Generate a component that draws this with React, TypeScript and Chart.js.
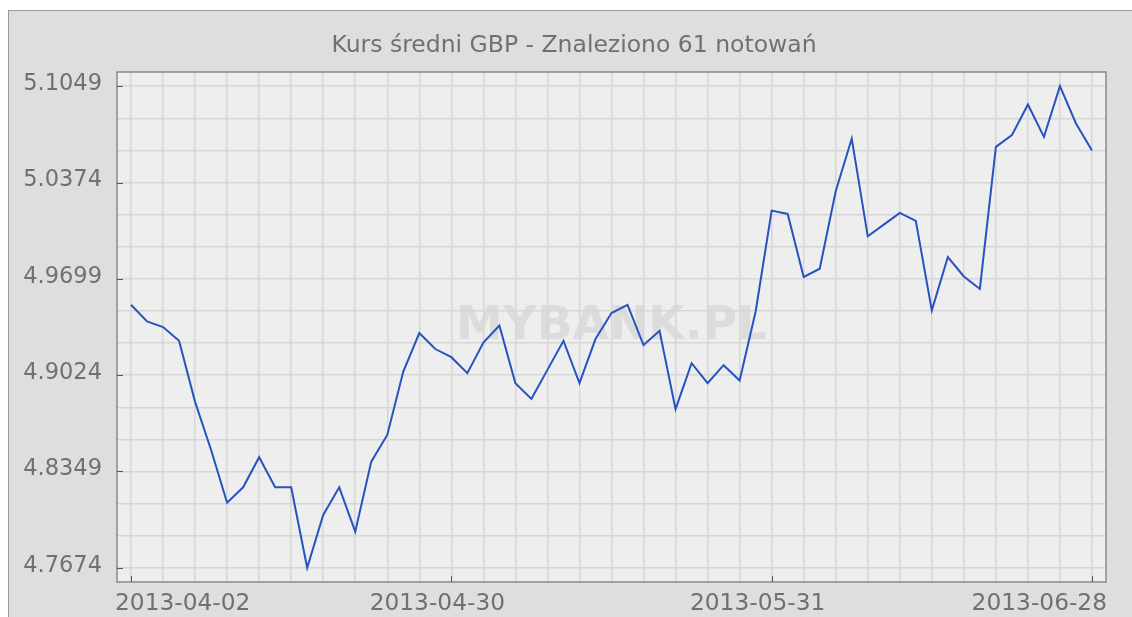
import React, { useEffect, useRef } from "react";
import { Chart, registerables } from "chart.js";

Chart.register(...registerables);

const TITLE = "Kurs średni GBP - Znaleziono 61 notowań";
const WATERMARK = "MYBANK.PL";

const dates: string[] = [
  "2013-04-02", "2013-04-03", "2013-04-04", "2013-04-05",
  "2013-04-08", "2013-04-09", "2013-04-10", "2013-04-11", "2013-04-12",
  "2013-04-15", "2013-04-16", "2013-04-17", "2013-04-18", "2013-04-19",
  "2013-04-22", "2013-04-23", "2013-04-24", "2013-04-25", "2013-04-26",
  "2013-04-29", "2013-04-30",
  "2013-05-02",
  "2013-05-06", "2013-05-07", "2013-05-08", "2013-05-09", "2013-05-10",
  "2013-05-13", "2013-05-14", "2013-05-15", "2013-05-16", "2013-05-17",
  "2013-05-20", "2013-05-21", "2013-05-22", "2013-05-23", "2013-05-24",
  "2013-05-27", "2013-05-28", "2013-05-29", "2013-05-31",
  "2013-06-03", "2013-06-04", "2013-06-05", "2013-06-06", "2013-06-07",
  "2013-06-10", "2013-06-11", "2013-06-12", "2013-06-13", "2013-06-14",
  "2013-06-17", "2013-06-18", "2013-06-19", "2013-06-20", "2013-06-21",
  "2013-06-24", "2013-06-25", "2013-06-26", "2013-06-27", "2013-06-28",
];

const rates: number[] = [
  4.9517, 4.9400, 4.9361, 4.9265, 4.8837, 4.8500, 4.8130, 4.8238, 4.8449, 4.8238,
  4.8238, 4.7674, 4.8044, 4.8238, 4.7927, 4.8418, 4.8605, 4.9049, 4.9319, 4.9207,
  4.9150, 4.9038, 4.9253, 4.9372, 4.8968, 4.8858, 4.9061, 4.9265, 4.8968, 4.9277,
  4.9459, 4.9517, 4.9235, 4.9335, 4.8786, 4.9108, 4.8968, 4.9094, 4.8986, 4.9470,
  5.0177, 5.0154, 4.9712, 4.9770, 5.0313, 5.0682, 4.9997, 5.0079, 5.0161, 5.0105,
  4.9478, 4.9852, 4.9716, 4.9628, 5.0624, 5.0706, 5.0921, 5.0694, 5.1049, 5.0788,
  5.0598,
];

const yTickLabels: string[] = ["4.7674", "4.8349", "4.9024", "4.9699", "5.0374", "5.1049"];
const yMinorPerMajor = 3;
const xLabelIndices: number[] = [0, 20, 40, 60];
const xGridEvery = 2;

const FONT = "'DejaVu Sans', sans-serif";
const TEXT_COLOR = "#707070";

export default function App() {
  const ref = useRef<HTMLCanvasElement>(null);

  useEffect(() => {
    const canvas = ref.current!;
    const yMajor = yTickLabels.map(Number);
    const yStep = (yMajor[1] - yMajor[0]) / yMinorPerMajor;
    const yGrid: number[] = [];
    for (let k = 0; k <= (yMajor.length - 1) * yMinorPerMajor; k++) {
      yGrid.push(+(yMajor[0] + k * yStep).toFixed(5));
    }
    const xGrid: number[] = [];
    for (let i = 0; i < dates.length; i += xGridEvery) xGrid.push(i);

    const yPad = (yMajor[yMajor.length - 1] - yMajor[0]) * 0.0295;
    const xPad = 0.875;

    const deco = {
      id: "deco",
      beforeDraw(chart: any) {
        const { ctx, chartArea: a, width, height } = chart;
        ctx.save();
        ctx.fillStyle = "#ffffff";
        ctx.fillRect(0, 0, width, height);
        ctx.fillStyle = "#dedede";
        ctx.fillRect(8.5, 10.5, width + 20, height + 20);
        ctx.strokeStyle = "#9a9a9a";
        ctx.lineWidth = 1;
        ctx.strokeRect(8.5, 10.5, width + 20, height + 20);
        ctx.fillStyle = "#eeeeee";
        ctx.fillRect(a.left, a.top, a.right - a.left, a.bottom - a.top);
        ctx.fillStyle = "#dcdcdc";
        ctx.font = `bold 47px ${FONT}`;
        ctx.textAlign = "center";
        ctx.textBaseline = "middle";
        ctx.fillText(WATERMARK, (a.left + a.right) / 2, (a.top + a.bottom) / 2);
        ctx.restore();
      },
      afterDraw(chart: any) {
        const { ctx, chartArea: a } = chart;
        const xs = chart.scales.x;
        const ys = chart.scales.y;
        ctx.save();
        // plot border
        ctx.strokeStyle = "#8a8a8a";
        ctx.lineWidth = 1.5;
        ctx.strokeRect(a.left, a.top, a.right - a.left, a.bottom - a.top);
        // inward tick marks
        ctx.strokeStyle = "#555555";
        ctx.lineWidth = 1;
        ctx.beginPath();
        yMajor.forEach((v) => {
          const y = Math.round(ys.getPixelForValue(v)) + 0.5;
          ctx.moveTo(a.left, y);
          ctx.lineTo(a.left + 6, y);
        });
        xLabelIndices.forEach((i) => {
          const x = Math.round(xs.getPixelForValue(i)) + 0.5;
          ctx.moveTo(x, a.bottom);
          ctx.lineTo(x, a.bottom - 6);
        });
        ctx.stroke();
        // y labels
        ctx.fillStyle = TEXT_COLOR;
        ctx.font = `22.5px ${FONT}`;
        ctx.textAlign = "right";
        ctx.textBaseline = "middle";
        yTickLabels.forEach((t, k) => {
          ctx.fillText(t, a.left - 15, ys.getPixelForValue(yMajor[k]) - 2);
        });
        // x labels
        ctx.font = `23.3px ${FONT}`;
        ctx.textBaseline = "alphabetic";
        xLabelIndices.forEach((i, k) => {
          const px = xs.getPixelForValue(i);
          if (k === 0) {
            ctx.textAlign = "left";
            ctx.fillText(dates[i], a.left - 2, a.bottom + 28);
          } else if (k === xLabelIndices.length - 1) {
            ctx.textAlign = "right";
            ctx.fillText(dates[i], a.right + 1, a.bottom + 28);
          } else {
            ctx.textAlign = "center";
            ctx.fillText(dates[i], px - 14, a.bottom + 28);
          }
        });
        // title
        ctx.font = `23.5px ${FONT}`;
        ctx.textAlign = "center";
        ctx.fillText(TITLE, 574, 52);
        ctx.restore();
      },
    };

    const chart = new Chart(canvas, {
      type: "line",
      data: {
        datasets: [
          {
            label: "GBP",
            data: rates.map((v, i) => ({ x: i, y: v })),
            borderColor: "#2753c0",
            borderWidth: 2,
            pointRadius: 0,
            tension: 0,
            fill: false,
          },
        ],
      },
      options: {
        responsive: false,
        animation: false,
        devicePixelRatio: 1,
        layout: { padding: { left: 0, top: 72, right: 26, bottom: 0 } },
        plugins: { legend: { display: false }, title: { display: false }, tooltip: { enabled: false } },
        scales: {
          x: {
            type: "linear",
            min: -xPad,
            max: dates.length - 1 + xPad,
            afterBuildTicks: (s: any) => {
              s.ticks = xGrid.map((v) => ({ value: v }));
            },
            afterFit: (s: any) => {
              s.height = 35;
            },
            ticks: { display: false },
            grid: { color: "#d6d6d6", lineWidth: 1.5, drawTicks: false },
            border: { display: false },
          },
          y: {
            type: "linear",
            min: yMajor[0] - yPad,
            max: yMajor[yMajor.length - 1] + yPad,
            afterBuildTicks: (s: any) => {
              s.ticks = yGrid.map((v) => ({ value: v }));
            },
            afterFit: (s: any) => {
              s.width = 117;
            },
            ticks: { display: false },
            grid: { color: "#d6d6d6", lineWidth: 1.5, drawTicks: false },
            border: { display: false },
          },
        },
      },
      plugins: [deco],
    });
    return () => chart.destroy();
  }, []);

  return (
    <div style={{ position: "fixed", left: 0, top: 0, width: 1132, height: 617, overflow: "hidden" }}>
      <canvas ref={ref} width={1132} height={617} style={{ display: "block" }} />
    </div>
  );
}
